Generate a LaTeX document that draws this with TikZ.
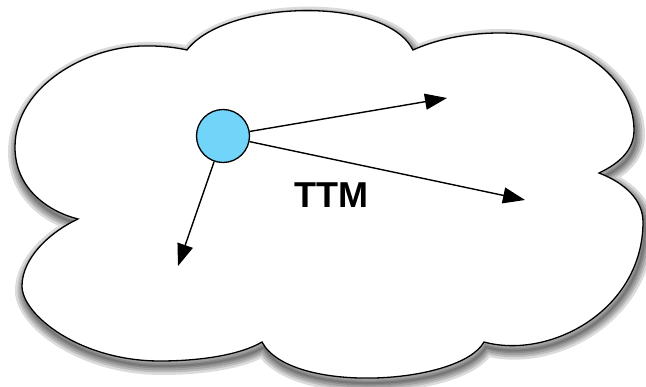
\documentclass[tikz,border=0pt]{standalone}
\usepackage{fontspec}
\setsansfont{Liberation Sans}
\usepackage{tikz}
\usetikzlibrary{arrows.meta}
\definecolor{hubblue}{RGB}{115,212,250}
\newcommand{\cloudshape}{(187,50) .. controls (225,0) and (385,-5) .. (413,50)
  .. controls (435,40) and (465,33) .. (500,33)
  .. controls (574,33) and (634,77) .. (634,130)
  .. controls (634,150) and (620,163) .. (599,173)
  .. controls (625,183) and (643,200) .. (643,222)
  .. controls (643,310) and (550,360) .. (484,342)
  .. controls (460,385) and (290,395) .. (262,342)
  .. controls (240,355) and (200,361) .. (160,361)
  .. controls (80,361) and (22,315) .. (22,286)
  .. controls (22,258) and (50,232) .. (78,219)
  .. controls (50,212) and (15,190) .. (15,147)
  .. controls (15,85) and (90,44) .. (150,46)
  .. controls (165,46) and (178,48) .. (187,50) -- cycle}

\begin{document}
\begin{tikzpicture}
      [   x=1pt,y=-1pt,
          hubnode/.style={draw=black,fill=#1,circle,inner sep=0pt,minimum size=53pt,line width=1.3pt},
          link/.style={line width=1.4pt,-{Triangle[length=22pt,width=16pt]}},
      ]
          \useasboundingbox (0,0) rectangle (646,387);
          % soft shadow under the cloud
          \foreach \w in {18,13,9,5,2}
          {   \draw[black,draw opacity=0.14,line width=\w pt,shift={(2,5)}] \cloudshape;
          }
          \draw[fill=white,line width=1.3pt] \cloudshape;
          \node[hubnode=hubblue] (hub) at (223,136) {};
          \coordinate (t-1) at (447,98);
          \coordinate (t-2) at (525,200);
          \coordinate (t-3) at (178,266);
          \foreach \x in {1,...,3}
          {   \draw[link] (hub) -- (t-\x);
          }
          \node[font=\sffamily\bfseries\fontsize{36}{36}\selectfont] (ttm) at (331,195) {TTM};
    \end{tikzpicture}
\end{document}
